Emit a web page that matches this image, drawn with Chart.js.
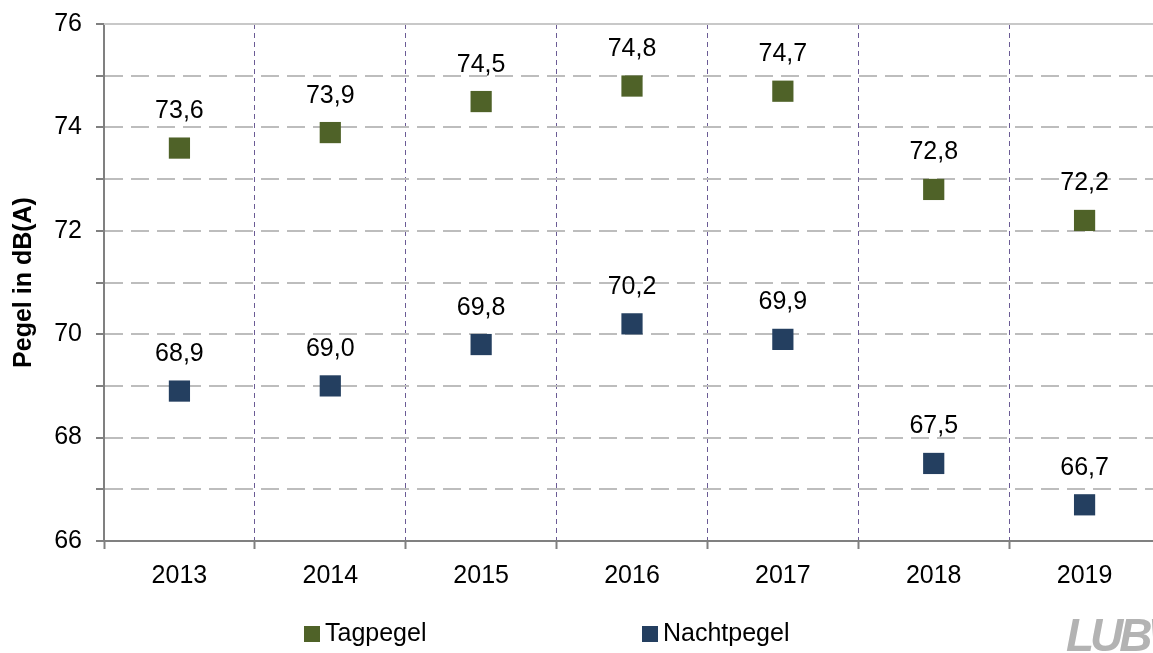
<!DOCTYPE html>
<html>
<head>
<meta charset="utf-8">
<script src="https://cdn.jsdelivr.net/npm/chart.js@4.4.1/dist/chart.umd.min.js"></script>
<style>
  body { margin: 0; background: #fff; overflow: hidden; }
  .wrap { position: relative; width: 1153px; height: 653px; overflow: hidden; }
  canvas { position: absolute; left: 0; top: 0; }
  .legend { position: absolute; top: 618px; font: 25px 'Liberation Sans', Arial, sans-serif; color: #000; white-space: nowrap; }
  .legend span.box { display: inline-block; width: 16px; height: 16px; vertical-align: -1px; margin-right: 5px; }
  .logo { position: absolute; left: 1066px; top: 608px; font: italic 900 46px 'Liberation Sans', Arial, sans-serif; color: #b3b3b3; letter-spacing: -4px; }
</style>
</head>
<body>
<div class="wrap">
  <canvas id="myChart" width="1160" height="653"></canvas>
  <div class="legend" style="left:304px"><span class="box" style="background:#4f6228"></span>Tagpegel</div>
  <div class="legend" style="left:642px"><span class="box" style="background:#243f60"></span>Nachtpegel</div>
  <div class="logo">LUBW</div>
</div>
<script>
const years = ['2013', '2014', '2015', '2016', '2017', '2018', '2019'];
const tagpegel = [73.6, 73.9, 74.5, 74.8, 74.7, 72.8, 72.2];
const nachtpegel = [68.9, 69.0, 69.8, 70.2, 69.9, 67.5, 66.7];
const yMin = 66;
const yMax = 76;

Chart.defaults.font.family = "'Liberation Sans', Arial, sans-serif";
Chart.defaults.color = '#000';

// value labels above the markers, german decimal comma
const valueLabels = {
  id: 'valueLabels',
  afterDatasetsDraw(chart) {
    const ctx = chart.ctx;
    ctx.save();
    ctx.font = "25px 'Liberation Sans', Arial, sans-serif";
    ctx.fillStyle = '#000';
    ctx.textAlign = 'center';
    ctx.textBaseline = 'alphabetic';
    chart.data.datasets.forEach((ds, i) => {
      chart.getDatasetMeta(i).data.forEach((pt, j) => {
        ctx.fillText(ds.data[j].toFixed(1).replace('.', ','), pt.x, pt.y - 30);
      });
    });
    ctx.restore();
  }
};

// solid line along the top of the plot area
const topLine = {
  id: 'topLine',
  beforeDatasetsDraw(chart) {
    const { ctx, chartArea } = chart;
    ctx.save();
    ctx.strokeStyle = '#c8c8c8';
    ctx.lineWidth = 2;
    ctx.beginPath();
    ctx.moveTo(chartArea.left, chartArea.top);
    ctx.lineTo(chartArea.right, chartArea.top);
    ctx.stroke();
    ctx.restore();
  }
};

new Chart(document.getElementById('myChart'), {
  type: 'line',
  data: {
    labels: years,
    datasets: [{
      label: 'Tagpegel',
      data: tagpegel,
      showLine: false,
      pointStyle: 'rect',
      pointRadius: 15,
      pointBorderWidth: 0,
      backgroundColor: '#4f6228',
      borderColor: '#4f6228',
    }, {
      label: 'Nachtpegel',
      data: nachtpegel,
      showLine: false,
      pointStyle: 'rect',
      pointRadius: 15,
      pointBorderWidth: 0,
      backgroundColor: '#243f60',
      borderColor: '#243f60',
    }],
  },
  options: {
    responsive: false,
    animation: false,
    devicePixelRatio: 1,
    layout: { autoPadding: false, padding: { top: 24, right: 0, bottom: 0, left: 0 } },
    plugins: {
      legend: { display: false },
      tooltip: { enabled: false },
    },
    scales: {
      x: {
        offset: true,
        afterFit: scale => { scale.height = 112; },
        grid: {
          offset: true,
          color: ctx => (ctx.index === 0 ? 'rgba(0,0,0,0)' : '#6b5b95'),
          lineWidth: 1,
          tickColor: '#808080',
          tickWidth: 2,
          tickLength: 8,
          tickBorderDash: [],
        },
        border: { color: '#808080', width: 2, dash: [5, 4] },
        ticks: { font: { size: 25 }, padding: 12, maxRotation: 0 },
      },
      y: {
        min: yMin,
        max: yMax,
        afterFit: scale => {
          scale.width = 104;
          scale.paddingTop = 0;
          scale.paddingBottom = 0;
        },
        grid: {
          color: ctx => (ctx.tick && (ctx.tick.value === yMax || ctx.tick.value === yMin) ? 'rgba(0,0,0,0)' : '#bdbdbd'),
          lineWidth: 2,
          tickColor: '#808080',
          tickWidth: 2,
          tickLength: 8,
          tickBorderDash: [],
        },
        border: { color: '#808080', width: 2, dash: [18, 8] },
        ticks: {
          stepSize: 1,
          font: { size: 25 },
          padding: 14,
          callback: value => (value % 2 === 0 ? String(value) : ''),
        },
        title: {
          display: true,
          text: 'Pegel in dB(A)',
          font: { size: 25, weight: 'bold' },
          padding: { top: 9, bottom: 0 },
        },
      },
    },
  },
  plugins: [topLine, valueLabels],
});
</script>
</body>
</html>
